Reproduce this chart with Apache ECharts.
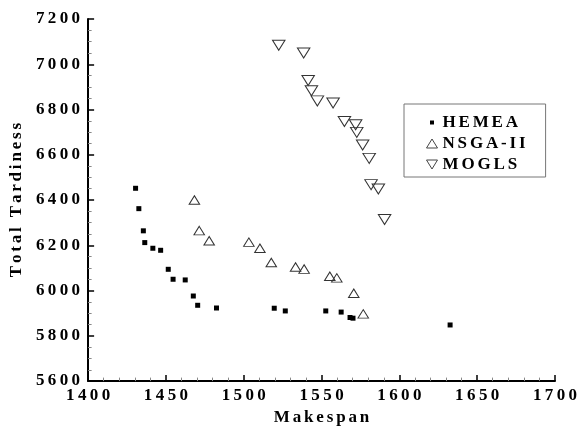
<!DOCTYPE html>
<html>
<head>
<meta charset="utf-8">
<script src="https://cdn.jsdelivr.net/npm/echarts@6/dist/echarts.min.js"></script>
<style>
html,body{margin:0;padding:0;background:#fff;}
#chart{width:582px;height:431px;}
</style>
</head>
<body>
<div id="chart"></div>
<script>
// ---- data ----
const seriesNames = ['HEMEA', 'NSGA-II', 'MOGLS'];
const hemeaMakespan = [1430.5, 1432.6, 1435.5, 1436.4, 1441.6, 1446.6, 1451.5, 1454.6, 1462.4, 1467.6, 1470.4, 1482.5, 1519.6, 1526.7, 1552.7, 1562.6, 1568.3, 1570.2, 1632.6];
const hemeaTardiness = [6452, 6362, 6264, 6212, 6187, 6178, 6094, 6050, 6047, 5976, 5935, 5923, 5922, 5910, 5910, 5905, 5881, 5878, 5848];
const nsgaMakespan = [1468.3, 1471.4, 1477.8, 1503.3, 1510.4, 1517.7, 1533.3, 1538.8, 1555.3, 1559.8, 1570.7, 1576.8];
const nsgaTardiness = [6400, 6265, 6220, 6214, 6187, 6124, 6104, 6095, 6063, 6056, 5988, 5897];
const moglsMakespan = [1522.5, 1538.5, 1541.4, 1543.5, 1547.3, 1557.4, 1564.7, 1571.9, 1572.6, 1576.4, 1580.6, 1581.8, 1586.5, 1590.5];
const moglsTardiness = [7084, 7050, 6928, 6883, 6838, 6829, 6747, 6733, 6699, 6643, 6584, 6468, 6449, 6314];
const xTicks = [1400, 1450, 1500, 1550, 1600, 1650, 1700];
const yTicks = [5600, 5800, 6000, 6200, 6400, 6600, 6800, 7000, 7200];

const pairs = (xs, ys) => xs.map((x, i) => [x, ys[i]]);
const spaced = (s, sp) => String(s).split('').join(sp);
const FONT = '"Liberation Serif", "Times New Roman", serif';

const chart = echarts.init(document.getElementById('chart'), null, {renderer: 'canvas'});
const axisCommon = {
  z: 5,
  axisLine: {show: true, lineStyle: {color: '#000', width: 2}},
  axisTick: {show: true, inside: true, length: 6, lineStyle: {color: '#000', width: 1.5}},
  minorTick: {show: true, length: 3.5, lineStyle: {color: '#888', width: 1}},
  splitLine: {show: false},
  nameTextStyle: {color: '#000', fontFamily: FONT, fontWeight: 'bold', fontSize: 17, lineHeight: 4},
};
const triStyle = {color: 'rgba(255,255,255,0)', borderColor: '#444', borderWidth: 1};
chart.setOption({
  animation: false,
  grid: {left: 83, right: 27, top: 19, bottom: 45},
  xAxis: Object.assign({}, axisCommon, {
    type: 'value', min: xTicks[0], max: xTicks[xTicks.length - 1], interval: xTicks[1] - xTicks[0],
    minorTick: Object.assign({}, axisCommon.minorTick, {splitNumber: 5}),
    name: spaced('Makespan', '\u2006'), nameLocation: 'middle', nameGap: 32.5,
    axisLabel: {color: '#000', fontFamily: FONT, fontWeight: 'bold', fontSize: 17, margin: 6,
      formatter: v => spaced(v, '\u2009')}
  }),
  yAxis: Object.assign({}, axisCommon, {
    type: 'value', min: yTicks[0], max: yTicks[yTicks.length - 1], interval: yTicks[1] - yTicks[0],
    minorTick: Object.assign({}, axisCommon.minorTick, {splitNumber: 4}),
    name: spaced('Total Tardiness', '\u2006'), nameLocation: 'middle', nameGap: 65,
    axisLabel: {color: '#000', fontFamily: FONT, fontWeight: 'bold', fontSize: 17, margin: 8,
      formatter: v => spaced(v, '\u2009')}
  }),
  legend: {
    orient: 'vertical', left: 404, top: 104,
    borderColor: '#777', borderWidth: 1, borderRadius: 0,
    padding: [10, 20, 4, 22], itemGap: 4, itemWidth: 11, itemHeight: 9,
    textStyle: {color: '#000', fontFamily: FONT, fontWeight: 'bold', fontSize: 17, lineHeight: 17},
    formatter: n => spaced(n, '\u2006'),
    data: [
      {name: seriesNames[0], icon: 'path://M0,0M11,9M3.5,2.5h4v4h-4z', itemStyle: {color: '#000', borderWidth: 0}},
      {name: seriesNames[1], icon: 'path://M5.5,0L11,9L0,9Z', itemStyle: triStyle},
      {name: seriesNames[2], icon: 'path://M0,0L11,0L5.5,9Z', itemStyle: triStyle}
    ]
  },
  series: [
    {name: seriesNames[0], type: 'scatter', data: pairs(hemeaMakespan, hemeaTardiness),
      symbol: 'rect', symbolSize: 5, itemStyle: {color: '#000', opacity: 1}},
    {name: seriesNames[1], type: 'scatter', data: pairs(nsgaMakespan, nsgaTardiness),
      symbol: 'triangle', symbolSize: [10.5, 8.5],
      itemStyle: {color: 'rgba(255,255,255,0)', borderColor: '#333', borderWidth: 1, opacity: 1}},
    {name: seriesNames[2], type: 'scatter', data: pairs(moglsMakespan, moglsTardiness),
      symbol: 'triangle', symbolRotate: 180, symbolSize: [12.5, 10],
      itemStyle: {color: 'rgba(255,255,255,0)', borderColor: '#333', borderWidth: 1, opacity: 1}}
  ]
});
</script>
</body>
</html>
